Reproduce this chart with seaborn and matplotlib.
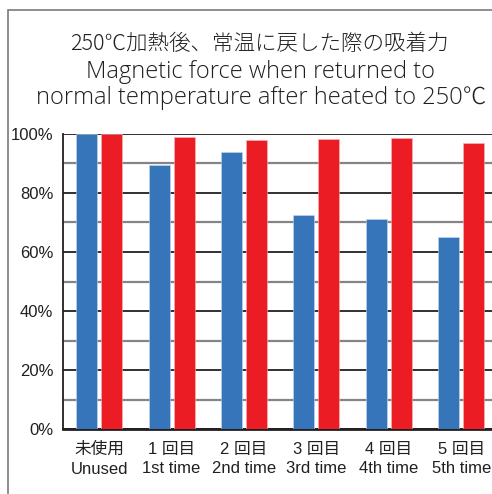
"""Magnetic force after heating to 250°C: grouped bar chart."""

import matplotlib
matplotlib.use("Agg")
import matplotlib.pyplot as plt
import pandas as pd
import seaborn as sns
from matplotlib.patches import Rectangle

# Data
categories = ["未使用\nUnused", "1 回目\n1st time", "2 回目\n2nd time",
              "3 回目\n3rd time", "4 回目\n4th time", "5 回目\n5th time"]
series_names = ["Series A", "Series B"]
series_a = [100.0, 89.5, 93.8, 72.5, 71.1, 65.2]
series_b = [100.0, 99.1, 98.0, 98.3, 98.7, 96.8]
yticks = [0, 20, 40, 60, 80, 100]
ytick_labels = ["0%", "20%", "40%", "60%", "80%", "100%"]
minor_grid = [10, 30, 50, 70, 90]

title_jp = "250℃加熱後、常温に戻した際の吸着力"
title_en = "Magnetic force when returned to\nnormal temperature after heated to 250℃"

COLORS = {"Series A": "#3775BA", "Series B": "#EC1C24"}

df = pd.DataFrame({
    "category": categories * 2,
    "series": [series_names[0]] * len(categories) + [series_names[1]] * len(categories),
    "value": series_a + series_b,
})

sns.set_style("white")
plt.rcParams["font.family"] = ["Liberation Sans", "Noto Sans CJK JP", "DejaVu Sans"]

W, H = 492, 494
fig = plt.figure(figsize=(W / 100, H / 100), dpi=100)
fig.patch.set_facecolor("white")

# Outer frame (runs off the right and bottom edges)
fig.patches.append(Rectangle((8 / W, -0.1), 1.2, 1 - 10 / H + 0.1,
                             transform=fig.transFigure, fill=False,
                             edgecolor="#7a7a7a", linewidth=1.2, zorder=0))

ax = fig.add_axes([63 / W, 65 / H, 434.4 / W, 295 / H])

sns.barplot(data=df, x="category", y="value", hue="series",
            palette=COLORS, saturation=1, width=0.69, gap=0.16, ax=ax,
            edgecolor="#c9d6ea", linewidth=0.4, legend=False,
            errorbar=None, zorder=3)
for patch in ax.patches[len(categories):]:
    patch.set_edgecolor("#f6b7ba")

# Gridlines: dark at 20% steps, grey in between
for y in yticks:
    ax.axhline(y, color="#231f20", linewidth=1.3, zorder=1)
for y in minor_grid:
    ax.axhline(y, color="#858585", linewidth=1.6, zorder=1)

ax.set_xlim(-0.5, 5.5)
ax.set_ylim(0, 100)
ax.set_yticks(yticks)
ax.set_yticklabels(ytick_labels)
ax.tick_params(axis="both", length=0, labelsize=12, colors="#231f20")
ax.tick_params(axis="y", pad=7)
ax.tick_params(axis="x", pad=9)
for lbl in ax.get_yticklabels():
    lbl.set_verticalalignment("center_baseline")
for lbl in ax.get_xticklabels():
    lbl.set_linespacing(1.4)
ax.set_xlabel("")
ax.set_ylabel("")

for side in ["top", "right"]:
    ax.spines[side].set_visible(False)
ax.spines["left"].set_color("#231f20")
ax.spines["left"].set_linewidth(1.3)
ax.spines["bottom"].set_color("#231f20")
ax.spines["bottom"].set_linewidth(2.0)

fig.text(259 / W, 1 - 44 / H, title_jp, ha="center", va="center",
         fontsize=15.5, color="#231f20", fontweight="light",
         family=["Noto Sans CJK JP", "DejaVu Sans"])
fig.text(261 / W, 1 - 85 / H, title_en, ha="center", va="center",
         fontsize=17, color="#231f20", linespacing=1.08, fontweight="light",
         family=["Open Sans", "Noto Sans CJK JP", "DejaVu Sans"])

fig.savefig("out.png", dpi=100, facecolor="white")
plt.close(fig)
